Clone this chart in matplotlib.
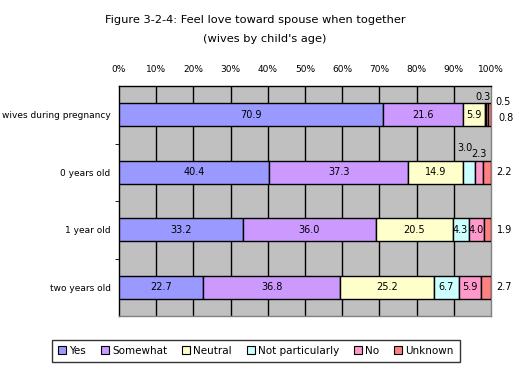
import numpy as np
import matplotlib.pyplot as plt
from matplotlib.patches import Patch

# categories (top to bottom) and answer shares in %
groups = ['wives during pregnancy', '0 years old', '1 year old', 'two years old']
answers = ['Yes', 'Somewhat', 'Neutral', 'Not particularly', 'No', 'Unknown']
yes = [70.9, 40.4, 33.2, 22.7]
somewhat = [21.6, 37.3, 36.0, 36.8]
neutral = [5.9, 14.9, 20.5, 25.2]
not_part = [0.3, 3.0, 4.3, 6.7]
no = [0.5, 2.3, 4.0, 5.9]
unknown = [0.8, 2.2, 1.9, 2.7]
colors = ['#9999FF', '#CC99FF', '#FFFFCC', '#CCFFFF', '#FF99CC', '#FF8080']
xticks = [0, 10, 20, 30, 40, 50, 60, 70, 80, 90, 100]

# where each value label goes: 'in' bar, 'up' above bar, 'r' right of axis
place = [['in', 'in', 'in', 'up0', 'r0', 'r1'],
         ['in', 'in', 'in', 'up', 'up2', 'r'],
         ['in', 'in', 'in', 'in', 'in', 'r'],
         ['in', 'in', 'in', 'in', 'in', 'r']]

series = [yes, somewhat, neutral, not_part, no, unknown]
data = np.array(series)

fig = plt.figure(figsize=(5.19, 3.85), dpi=100)
ax = fig.add_axes([119 / 519, 1 - 316 / 385, 372 / 519, 230 / 385])
ax.set_facecolor('#C0C0C0')

y = np.arange(len(groups))
left = np.zeros(len(groups))
for k in range(len(answers)):
    ax.barh(y, data[k], left=left, height=0.4, color=colors[k],
            edgecolor='black', linewidth=1, zorder=3, label=answers[k])
    for i in range(len(groups)):
        v = data[k, i]
        cx = left[i] + v / 2
        p = place[i][k]
        txt = f'{v:.1f}'
        if p == 'in':
            ax.text(cx, y[i], txt, ha='center', va='center', fontsize=7, zorder=4)
        elif p == 'up0':
            ax.annotate(txt, (cx, y[i] - 0.2), xytext=(-2, 1), textcoords='offset points',
                        ha='center', va='bottom', fontsize=7)
        elif p == 'up':
            ax.annotate(txt, (cx, y[i] - 0.2), xytext=(-3, 5.5), textcoords='offset points',
                        ha='center', va='bottom', fontsize=7)
        elif p == 'up2':
            ax.annotate(txt, (cx, y[i] - 0.2), xytext=(0, 1.5), textcoords='offset points',
                        ha='center', va='bottom', fontsize=7)
        elif p == 'r0':
            ax.annotate(txt, (1.0, y[i]), xycoords=('axes fraction', 'data'),
                        xytext=(3, 9), textcoords='offset points',
                        ha='left', va='center', fontsize=7)
        elif p == 'r1':
            ax.annotate(txt, (1.0, y[i]), xycoords=('axes fraction', 'data'),
                        xytext=(5, -2), textcoords='offset points',
                        ha='left', va='center', fontsize=7)
        else:
            ax.annotate(txt, (1.0, y[i]), xycoords=('axes fraction', 'data'),
                        xytext=(4, 0), textcoords='offset points',
                        ha='left', va='center', fontsize=7)
    left += data[k]

ax.set_xlim(0, 100)
ax.set_ylim(len(groups) - 0.5, -0.5)
for xv in xticks[1:-1]:
    ax.axvline(xv, color='black', linewidth=1, zorder=1)

ax.xaxis.tick_top()
ax.set_xticks(xticks)
ax.set_xticklabels([f'{t}%' for t in xticks], fontsize=6.5)
ax.tick_params(axis='x', length=0, pad=8.5)
ax.set_yticks(y)
ax.set_yticklabels(groups, fontsize=6.5)
ax.tick_params(axis='y', length=0, pad=6)
ax.set_yticks([0.5, 1.5, 2.5], minor=True)
ax.tick_params(axis='y', which='minor', length=3, direction='out')
for s in ['left', 'top']:
    ax.spines[s].set_color('black')
for s in ['right', 'bottom']:
    ax.spines[s].set_color('#808080')
for s in ax.spines.values():
    s.set_linewidth(1)

fig.text(255 / 519, 1 - 20 / 385, 'Figure 3-2-4: Feel love toward spouse when together',
         ha='center', va='center', fontsize=8.2)
fig.text(265 / 519, 1 - 39 / 385, "(wives by child's age)",
         ha='center', va='center', fontsize=8.2)

handles = [Patch(facecolor=c, edgecolor='black', linewidth=0.8) for c in colors]
leg = fig.legend(handles, answers, loc='center', bbox_to_anchor=(256 / 519, 1 - 351 / 385),
                 ncol=6, fontsize=7.5, frameon=True, fancybox=False, edgecolor='black',
                 handlelength=0.8, handleheight=0.8, handletextpad=0.3, columnspacing=1.4,
                 borderpad=0.6)
leg.get_frame().set_linewidth(1)

fig.savefig('out.png', dpi=100)
